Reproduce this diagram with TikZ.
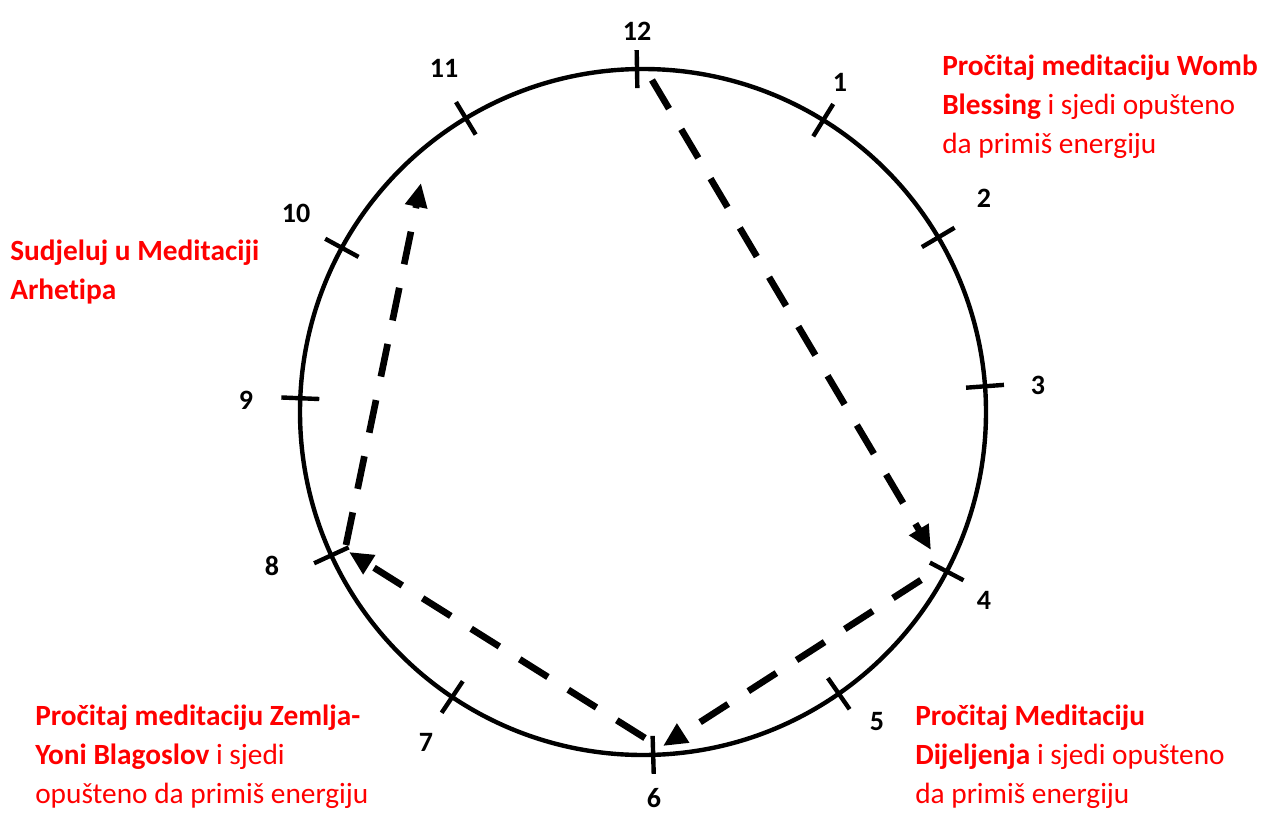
\documentclass[tikz,border=0pt]{standalone}
\usepackage{fontspec}
\setmainfont{Carlito}[Ligatures=NoCommon]
\usetikzlibrary{arrows.meta}
\tikzset{
  hour/.style={font=\bfseries\fontsize{21}{25}\selectfont, inner sep=0pt},
  note/.style={text=red, font=\fontsize{22}{29}\selectfont, align=left, anchor=north west, inner sep=0pt},
  tickmark/.style={line width=3.3pt},
  flow/.style={line width=5pt, dash pattern=on 25pt off 18pt, -{Triangle[length=18pt,width=16pt]}},
}
\begin{document}
\begin{tikzpicture}[x=0.75pt,y=-0.75pt]
\useasboundingbox (0,0) rectangle (1261,814);

\coordinate (c) at (643,412);
\draw[line width=3.3pt] (c) circle[radius=257.25pt];

% hour ticks
\foreach \a in {91.0,58.3,30.6,4.3,-27.7,-55.2,-88.3,236.2,204.7,177.7,151.4,121.1}
  \draw[tickmark] (c) ++(\a:243pt) -- ++(\a:28.5pt);

\node[hour] (h12) at (637,31) {12};
\node[hour] (h1) at (840,82) {1};
\node[hour] (h2) at (984,198) {2};
\node[hour] (h3) at (1038,385) {3};
\node[hour] (h4) at (984,600) {4};
\node[hour] (h5) at (877,722) {5};
\node[hour] (h6) at (654,798) {6};
\node[hour] (h7) at (426,742) {7};
\node[hour] (h8) at (272,566) {8};
\node[hour] (h9) at (246,400) {9};
\node[hour] (h10) at (296,213) {10};
\node[hour] (h11) at (444,68) {11};

% path of the arrows
\coordinate (a12) at (652,80);
\coordinate (a4) at (931,550);
\coordinate (b4) at (921,580);
\coordinate (b6) at (663,746);
\coordinate (c6) at (645,738);
\coordinate (c8) at (349,552);
\coordinate (d8) at (346,545);
\coordinate (d11) at (421,183);

\draw[flow] (a12) -- (a4);
\draw[flow] (b4) -- (b6);
\draw[flow] (c6) -- (c8);
\draw[flow] (d8) -- (d11);

\node[note] (womb) at (942,55) {\textbf{Pročitaj meditaciju Womb}\\\textbf{Blessing} i sjedi opušteno\\da primiš energiju};
\node[note] (arhetip) at (10,240) {\textbf{Sudjeluj u Meditaciji}\\\textbf{Arhetipa}};
\node[note] (zemlja) at (35,705) {\textbf{Pročitaj meditaciju Zemlja-}\\\textbf{Yoni Blagoslov} i sjedi\\opušteno da primiš energiju};
\node[note] (dijel) at (915,705) {\textbf{Pročitaj Meditaciju}\\\textbf{Dijeljenja} i sjedi opušteno\\da primiš energiju};
\end{tikzpicture}
\end{document}
